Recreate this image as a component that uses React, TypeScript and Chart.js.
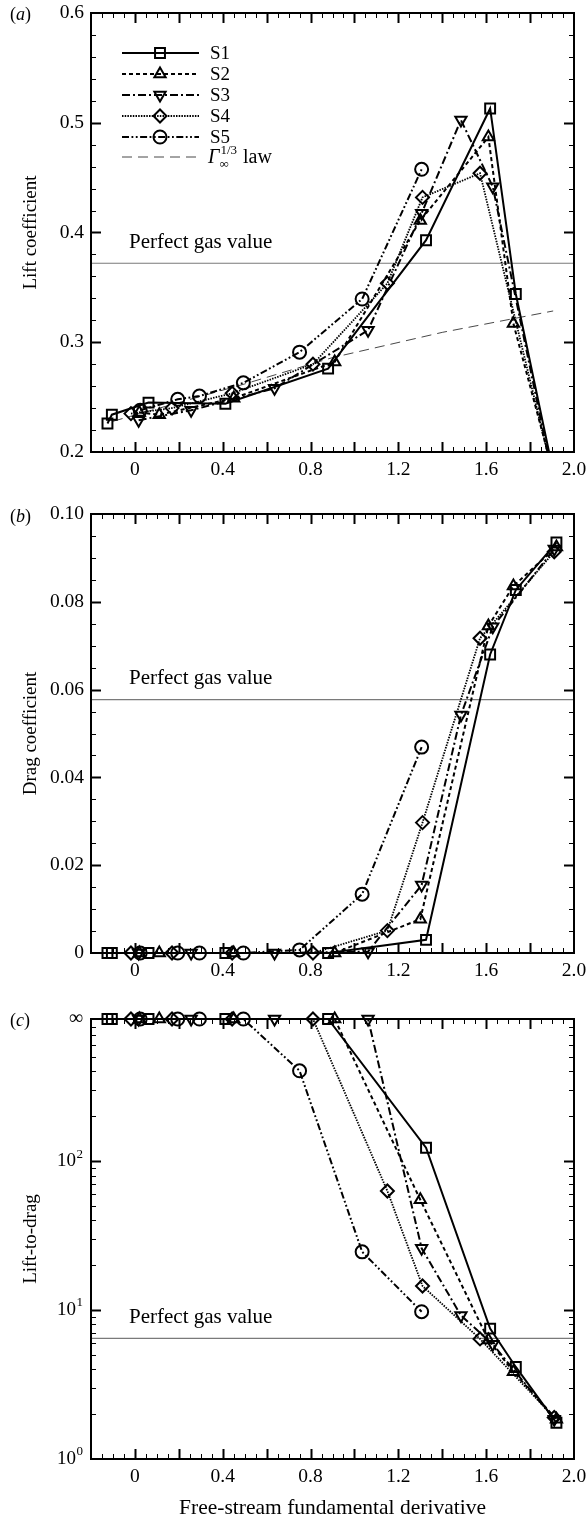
import React, { useEffect, useRef } from 'react';
import { Chart, registerables } from 'chart.js';
import { drawPoint } from 'chart.js/helpers';

Chart.register(...registerables);

const SERIF = '"Liberation Serif", "Times New Roman", Times, serif';
const INF = Infinity;

const SERIES_NAMES = ['S1', 'S2', 'S3', 'S4', 'S5'];

// Free-stream fundamental derivative of each run
const S1_X = [-0.125, -0.105, 0.062, 0.412, 0.88, 1.326, 1.618, 1.735, 1.92];
const S2_X = [0.02, 0.111, 0.45, 0.91, 1.3, 1.61, 1.724, 1.92];
const S3_X = [0.017, 0.256, 0.636, 1.062, 1.306, 1.485, 1.63, 1.91];
const S4_X = [-0.018, 0.169, 0.443, 0.811, 1.15, 1.31, 1.572, 1.91];
const S5_X = [0.024, 0.195, 0.294, 0.494, 0.75, 1.035, 1.306];

// (a) lift coefficient
const S1_LIFT = [0.226, 0.234, 0.245, 0.244, 0.276, 0.393, 0.513, 0.344, 0.168];
const S2_LIFT = [0.236, 0.234, 0.249, 0.282, 0.411, 0.487, 0.317, 0.17];
const S3_LIFT = [0.229, 0.238, 0.258, 0.311, 0.4175, 0.5025, 0.4417, 0.17];
const S4_LIFT = [0.235, 0.24, 0.2535, 0.28, 0.3537, 0.432, 0.454, 0.174];
const S5_LIFT = [0.238, 0.248, 0.251, 0.263, 0.291, 0.3394, 0.4576];

// (b) drag coefficient
const S1_DRAG = [0, 0, 0, 0, 0, 0.003, 0.068, 0.0827, 0.0935];
const S2_DRAG = [0, 0, 0, 0, 0.0077, 0.0745, 0.0836, 0.0925];
const S3_DRAG = [0, 0, 0, 0.0003, 0.0155, 0.0542, 0.0743, 0.092];
const S4_DRAG = [0, 0, 0, 0, 0.0051, 0.0297, 0.0717, 0.0914];
const S5_DRAG = [0, 0, 0, 0, 0.0007, 0.0134, 0.0469];

// (c) lift-to-drag (Infinity = zero drag)
const S1_LD = [INF, INF, INF, INF, INF, 123, 7.5, 4.15, 1.75];
const S2_LD = [INF, INF, INF, INF, 55, 6.3, 3.85, 1.85];
const S3_LD = [INF, INF, INF, INF, 26, 9.2, 5.9, 1.85];
const S4_LD = [INF, INF, INF, INF, 63, 14.5, 6.4, 1.9];
const S5_LD = [INF, INF, INF, INF, 404, 24.6, 9.75];

// Gamma^(1/3) law (panel a)
const LAW_X = [-0.1, 0.2, 0.5, 0.9, 1.4, 1.905];
const LAW_LIFT = [0.228, 0.245, 0.262, 0.286, 0.309, 0.3285];

// Perfect gas reference values
const PG_LIFT = 0.372;
const PG_DRAG = 0.0577;
const PG_LD = 6.45;

const X_LABELS = [0, 0.4, 0.8, 1.2, 1.6, 2.0];
const LIFT_LABELS = [0.2, 0.3, 0.4, 0.5, 0.6];
const DRAG_LABELS = [0, 0.02, 0.04, 0.06, 0.08, 0.1];
const LD_DECADES = [1, 10, 100];
const LD_TOP = 900; // where "infinity" is drawn

const X_ALL = [S1_X, S2_X, S3_X, S4_X, S5_X];
const LIFT_ALL = [S1_LIFT, S2_LIFT, S3_LIFT, S4_LIFT, S5_LIFT];
const DRAG_ALL = [S1_DRAG, S2_DRAG, S3_DRAG, S4_DRAG, S5_DRAG];
const LD_ALL = [S1_LD, S2_LD, S3_LD, S4_LD, S5_LD];

const STYLES: any[] = [
  { dash: [], width: 2, point: 'rect', rot: 0, r: 7 },
  { dash: [4, 3], width: 2, point: 'triangle', rot: 0, r: 6.5 },
  { dash: [8, 3, 2, 3], width: 2, point: 'triangle', rot: 180, r: 6.5 },
  { dash: [1.5, 1.2], width: 1.8, point: 'rectRot', rot: 0, r: 6.5 },
  { dash: [7, 2.5, 1.8, 2.5, 1.8, 2.5], width: 2, point: 'circle', rot: 0, r: 6.5 },
];

function seriesDatasets(ys: number[][], clip: any) {
  return X_ALL.map((xs, i) => ({
    label: SERIES_NAMES[i],
    data: xs.map((x, j) => ({ x, y: isFinite(ys[i][j]) ? ys[i][j] : LD_TOP })),
    showLine: true,
    borderColor: '#000',
    borderWidth: STYLES[i].width,
    borderDash: STYLES[i].dash,
    pointStyle: STYLES[i].point,
    pointRotation: STYLES[i].rot,
    pointRadius: STYLES[i].r,
    pointBorderWidth: 2,
    pointBorderColor: '#000',
    pointBackgroundColor: 'rgba(0,0,0,0)',
    tension: 0,
    clip,
  }));
}

function refLine(value: number) {
  return {
    label: 'Perfect gas value',
    data: [{ x: -0.2, y: value }, { x: 2.0, y: value }],
    showLine: true,
    borderColor: '#7a7a7a',
    borderWidth: 1.2,
    pointRadius: 0,
    clip: false,
  };
}

function range(a: number, b: number, s: number) {
  const out: number[] = [];
  for (let v = a; v <= b + s * 1e-6; v += s) out.push(Math.round(v * 1e6) / 1e6);
  return out;
}

const X_MINOR = range(-0.2, 2.0, 0.05);
const X_MAJOR = range(-0.2, 2.0, 0.2);

function drawFrame(chart: any, yMinor: number[], yMajor: number[]) {
  const { ctx, chartArea: a, scales } = chart;
  const xs = scales.x;
  const ys = scales.y;
  ctx.save();
  ctx.strokeStyle = '#000';
  const vt = (vals: number[], len: number, lw: number) => {
    ctx.lineWidth = lw;
    ctx.beginPath();
    vals.forEach((v) => {
      const px = Math.round(xs.getPixelForValue(v)) + 0.5;
      if (px < a.left + 1 || px > a.right - 1) return;
      ctx.moveTo(px, a.bottom);
      ctx.lineTo(px, a.bottom - len);
      ctx.moveTo(px, a.top);
      ctx.lineTo(px, a.top + len);
    });
    ctx.stroke();
  };
  const ht = (vals: number[], len: number, lw: number) => {
    ctx.lineWidth = lw;
    ctx.beginPath();
    vals.forEach((v) => {
      const py = Math.round(ys.getPixelForValue(v)) + 0.5;
      if (py < a.top + 1 || py > a.bottom - 1) return;
      ctx.moveTo(a.left, py);
      ctx.lineTo(a.left + len, py);
      ctx.moveTo(a.right, py);
      ctx.lineTo(a.right - len, py);
    });
    ctx.stroke();
  };
  vt(X_MINOR, 5, 1);
  vt(X_MAJOR, 10, 2);
  ht(yMinor, 5, 1);
  ht(yMajor, 10, 2);
  ctx.lineWidth = 2;
  ctx.strokeRect(a.left, a.top, a.right - a.left, a.bottom - a.top);
  ctx.restore();
}

function drawPG(chart: any, value: number) {
  const { ctx, chartArea: a, scales } = chart;
  const py = scales.y.getPixelForValue(value);
  ctx.save();
  ctx.fillStyle = '#000';
  ctx.font = `21px ${SERIF}`;
  ctx.textBaseline = 'middle';
  ctx.textAlign = 'left';
  ctx.fillText('Perfect gas value', a.left + 38, py - 21);
  ctx.restore();
}

function drawLegend(chart: any) {
  const { ctx } = chart;
  const rows = [53, 74, 95, 116, 137];
  const x0 = 122, x1 = 199, xm = 160, xt = 210;
  ctx.save();
  ctx.strokeStyle = '#000';
  ctx.fillStyle = '#000';
  ctx.font = `19px ${SERIF}`;
  ctx.textBaseline = 'middle';
  rows.forEach((y, i) => {
    const s = STYLES[i];
    ctx.save();
    ctx.setLineDash(s.dash);
    ctx.lineWidth = s.width;
    ctx.beginPath();
    ctx.moveTo(x0, y);
    ctx.lineTo(x1, y);
    ctx.stroke();
    ctx.restore();
    ctx.save();
    ctx.lineWidth = 2;
    ctx.strokeStyle = '#000';
    ctx.fillStyle = 'rgba(0,0,0,0)';
    drawPoint(ctx, { pointStyle: s.point, rotation: s.rot, radius: s.r, borderWidth: 2 } as any, xm, y);
    ctx.restore();
    ctx.fillText(SERIES_NAMES[i], xt, y + 1);
  });
  const y = 157;
  ctx.save();
  ctx.strokeStyle = '#333';
  ctx.lineWidth = 0.9;
  ctx.setLineDash([10, 6]);
  ctx.beginPath();
  ctx.moveTo(x0, y);
  ctx.lineTo(x1, y);
  ctx.stroke();
  ctx.restore();
  ctx.font = `italic 20px ${SERIF}`;
  ctx.fillText('Γ', xt - 2, y + 1);
  const gw = ctx.measureText('Γ').width;
  ctx.font = `13px ${SERIF}`;
  ctx.fillText('1/3', xt - 2 + gw + 1, y - 6);
  const sw = ctx.measureText('1/3').width;
  ctx.fillText('∞', xt - 2 + gw, y + 8);
  ctx.font = `20px ${SERIF}`;
  ctx.fillText(' law', xt - 2 + gw + sw + 2, y + 1);
  ctx.restore();
}

function drawLogLabels(chart: any) {
  const { ctx, chartArea: a, scales } = chart;
  const ys = scales.y;
  const right = a.left - 8;
  ctx.save();
  ctx.fillStyle = '#000';
  ctx.textBaseline = 'middle';
  ctx.textAlign = 'right';
  LD_DECADES.forEach((v) => {
    const py = ys.getPixelForValue(v);
    const exp = String(Math.round(Math.log10(v)));
    ctx.font = `13px ${SERIF}`;
    const ew = ctx.measureText(exp).width;
    ctx.fillText(exp, right, py - 7);
    ctx.font = `19px ${SERIF}`;
    ctx.fillText('10', right - ew - 0.5, py);
  });
  ctx.font = `20px ${SERIF}`;
  ctx.fillText('∞', right, ys.getPixelForValue(LD_TOP));
  ctx.restore();
}

function makeConfig(p: {
  datasets: any[];
  padTop: number;
  xAxisH: number;
  yTitle: string;
  xTitle?: string;
  yType: 'linear' | 'logarithmic';
  yMin: number;
  yMax: number;
  yLabels: number[];
  yFmt: (v: number) => string;
  yShowLabels: boolean;
  plugin: any;
}): any {
  const tickFont = { family: SERIF, size: 19.5 };
  return {
    type: 'scatter',
    data: { datasets: p.datasets },
    options: {
      responsive: false,
      animation: false,
      devicePixelRatio: 1,
      events: [],
      layout: { padding: { top: p.padTop, right: 12, left: 0, bottom: 0 } },
      plugins: { legend: { display: false }, tooltip: { enabled: false } },
      scales: {
        x: {
          type: 'linear',
          min: -0.2,
          max: 2.0,
          grid: { display: false, drawTicks: false },
          border: { display: false },
          ticks: {
            padding: 6,
            color: '#000',
            font: tickFont,
            maxRotation: 0,
            callback: (v: number) => (v === 0 ? '0' : Number(v).toFixed(1)),
          },
          afterBuildTicks: (s: any) => {
            s.ticks = X_LABELS.map((v) => ({ value: v }));
          },
          afterFit: (s: any) => {
            s.height = p.xAxisH;
            s.paddingLeft = 0;
            s.paddingRight = 0;
          },
          title: p.xTitle
            ? {
                display: true,
                text: p.xTitle,
                color: '#000',
                font: { family: SERIF, size: 21.5 },
                padding: { top: 0, bottom: 0 },
              }
            : { display: false },
        },
        y: {
          type: p.yType,
          min: p.yMin,
          max: p.yMax,
          grid: { display: false, drawTicks: false },
          border: { display: false },
          ticks: {
            display: p.yShowLabels,
            padding: 7,
            color: '#000',
            font: tickFont,
            callback: (v: number) => p.yFmt(Number(v)),
          },
          afterBuildTicks: (s: any) => {
            s.ticks = p.yLabels.map((v) => ({ value: v }));
          },
          afterFit: (s: any) => {
            s.width = 91;
            s.paddingTop = 0;
            s.paddingBottom = 0;
          },
          title: {
            display: true,
            text: p.yTitle,
            color: '#000',
            font: { family: SERIF, size: 19 },
            padding: { top: 20, bottom: 0 },
          },
        },
      },
    },
    plugins: [p.plugin],
  };
}

export default function App() {
  const refA = useRef<HTMLCanvasElement>(null);
  const refB = useRef<HTMLCanvasElement>(null);
  const refC = useRef<HTMLCanvasElement>(null);

  useEffect(() => {
    const liftMinor = range(0.2, 0.6, 0.02);
    const liftMajor = range(0.2, 0.6, 0.1);
    const dragMinor = range(0, 0.1, 0.005);
    const dragMajor = range(0, 0.1, 0.02);
    const ldMinor: number[] = [];
    [1, 10, 100].forEach((d) => {
      for (let k = 2; k <= 9; k++) if (k * d < LD_TOP) ldMinor.push(k * d);
    });

    const lawSet = {
      label: 'Γ law',
      data: LAW_X.map((x, i) => ({ x, y: LAW_LIFT[i] })),
      showLine: true,
      borderColor: '#333',
      borderWidth: 0.9,
      borderDash: [10, 6],
      pointRadius: 0,
    };

    const chartA = new Chart(
      refA.current as HTMLCanvasElement,
      makeConfig({
        datasets: [
          ...seriesDatasets(LIFT_ALL, { left: false, right: false, top: false, bottom: 0 }),
          lawSet,
          refLine(PG_LIFT),
        ],
        padTop: 13,
        xAxisH: 38,
        yTitle: 'Lift coefficient',
        yType: 'linear',
        yMin: 0.2,
        yMax: 0.6,
        yLabels: LIFT_LABELS,
        yFmt: (v) => v.toFixed(1),
        yShowLabels: true,
        plugin: {
          id: 'panelA',
          afterDraw: (c: any) => {
            drawFrame(c, liftMinor, liftMajor);
            drawPG(c, PG_LIFT);
            drawLegend(c);
          },
        },
      })
    );

    const chartB = new Chart(
      refB.current as HTMLCanvasElement,
      makeConfig({
        datasets: [...seriesDatasets(DRAG_ALL, false), refLine(PG_DRAG)],
        padTop: 24,
        xAxisH: 32,
        yTitle: 'Drag coefficient',
        yType: 'linear',
        yMin: 0,
        yMax: 0.1,
        yLabels: DRAG_LABELS,
        yFmt: (v) => (v === 0 ? '0' : v.toFixed(2)),
        yShowLabels: true,
        plugin: {
          id: 'panelB',
          afterDraw: (c: any) => {
            drawFrame(c, dragMinor, dragMajor);
            drawPG(c, PG_DRAG);
          },
        },
      })
    );

    const chartC = new Chart(
      refC.current as HTMLCanvasElement,
      makeConfig({
        datasets: [...seriesDatasets(LD_ALL, false), refLine(PG_LD)],
        padTop: 34,
        xAxisH: 62,
        yTitle: 'Lift-to-drag',
        xTitle: 'Free-stream fundamental derivative',
        yType: 'logarithmic',
        yMin: 1,
        yMax: LD_TOP,
        yLabels: LD_DECADES,
        yFmt: (v) => String(v),
        yShowLabels: false,
        plugin: {
          id: 'panelC',
          afterDraw: (c: any) => {
            drawFrame(c, ldMinor, LD_DECADES);
            drawPG(c, PG_LD);
            drawLogLabels(c);
          },
        },
      })
    );

    return () => {
      chartA.destroy();
      chartB.destroy();
      chartC.destroy();
    };
  }, []);

  const tag = (letter: string, top: number) => (
    <span
      style={{
        position: 'absolute',
        left: 10,
        top,
        fontFamily: SERIF,
        fontSize: 18,
        lineHeight: '22px',
        color: '#000',
      }}
    >
      (<i>{letter}</i>)
    </span>
  );

  return (
    <div style={{ position: 'absolute', left: 0, top: 0, width: 586, height: 1521, background: '#fff' }}>
      <canvas ref={refA} width={586} height={490} style={{ position: 'absolute', left: 0, top: 0 }} />
      <canvas ref={refB} width={586} height={495} style={{ position: 'absolute', left: 0, top: 490 }} />
      <canvas ref={refC} width={586} height={536} style={{ position: 'absolute', left: 0, top: 985 }} />
      {tag('a', 3)}
      {tag('b', 505)}
      {tag('c', 1009)}
    </div>
  );
}
